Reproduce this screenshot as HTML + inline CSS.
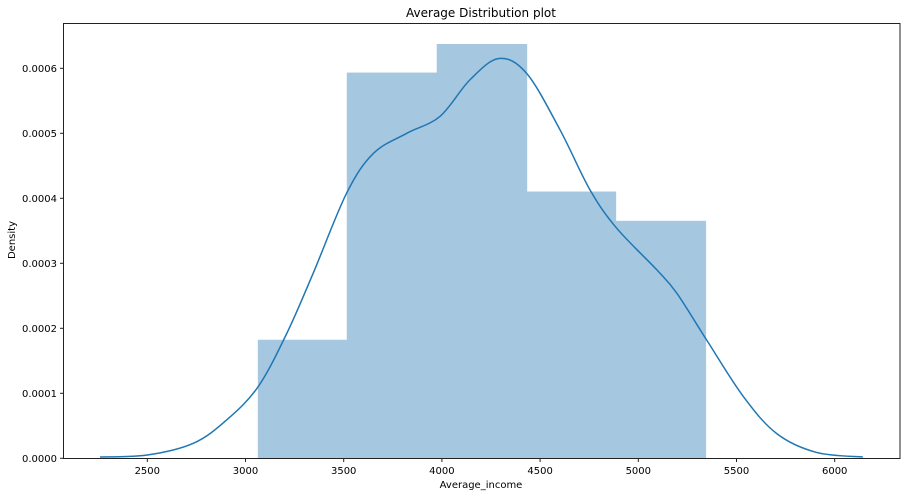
<!DOCTYPE html>
<html><head><meta charset="utf-8">
<style>
body{margin:0;background:#fff;}
svg text{font-family:"DejaVu Sans","Liberation Sans",sans-serif;fill:#000;}
</style></head>
<body>
<svg id="chart" width="907" height="497" xmlns="http://www.w3.org/2000/svg">
<rect x="0" y="0" width="907" height="497" fill="#fff"/>
<g id="bars"></g>
<g id="kde"></g>
<rect x="63.5" y="23.5" width="836.5" height="435" fill="none" stroke="#222" stroke-width="1"/>
<g id="xaxis"></g>
<g id="yaxis"></g>
<text x="481" y="17" text-anchor="middle" font-size="12">Average Distribution plot</text>
<text x="481" y="488" text-anchor="middle" font-size="10">Average_income</text>
<text x="15" y="240" text-anchor="middle" font-size="10" transform="rotate(-90 15 240)">Density</text>
</svg>
<script>
const binEdges=[3064,3517,3975,4433,4886,5344];
const binDensity=[0.000182,0.000593,0.000637,0.00041,0.000365];
const kdeX=[2259,2500,2734,2904,3064,3210,3345,3515,3651,3821,3990,4142,4290,4432,4602,4754,4890,5094,5196,5348,5535,5705,5908,6143];
const kdeY=[0.000002,0.000005,0.000023,0.000059,0.000110,0.000192,0.000285,0.000408,0.000469,0.000500,0.000526,0.000582,0.000615,0.000592,0.000505,0.000413,0.000354,0.000290,0.000254,0.000182,0.000095,0.000038,0.000009,0.000002];
const xTicks=[2500,3000,3500,4000,4500,5000,5500,6000];
const yTicks=[0,0.0001,0.0002,0.0003,0.0004,0.0005,0.0006];
const yTickLabels=["0.0000","0.0001","0.0002","0.0003","0.0004","0.0005","0.0006"];
const NS="http://www.w3.org/2000/svg";
function xs(v){return 147.3+(v-2500)*0.19640;}
function ys(v){return 458.3-v*650000;}
const bars=document.getElementById('bars');
for(let i=0;i<binDensity.length;i++){
  const r=document.createElementNS(NS,'rect');
  
  
  const x0=xs(binEdges[i]),x1=xs(binEdges[i+1]);
  r.setAttribute('x',x0);r.setAttribute('width',x1-x0);
  r.setAttribute('y',ys(binDensity[i]));r.setAttribute('height',ys(0)-ys(binDensity[i]));
  r.setAttribute('fill','#a6c7e0');r.setAttribute('stroke','#a6c7e0');r.setAttribute('stroke-width','0.5');
  bars.appendChild(r);
}
const pts=kdeX.map((x,i)=>[xs(x),ys(kdeY[i])]);
let d='M'+pts[0][0]+','+pts[0][1];
for(let i=0;i<pts.length-1;i++){
  const p0=pts[Math.max(0,i-1)],p1=pts[i],p2=pts[i+1],p3=pts[Math.min(pts.length-1,i+2)];
  const c1=[p1[0]+(p2[0]-p0[0])/6,p1[1]+(p2[1]-p0[1])/6];
  const c2=[p2[0]-(p3[0]-p1[0])/6,p2[1]-(p3[1]-p1[1])/6];
  d+=' C'+c1+' '+c2+' '+p2;
}
const path=document.createElementNS(NS,'path');


path.setAttribute('d',d);path.setAttribute('fill','none');
path.setAttribute('stroke','#1f77b4');path.setAttribute('stroke-width','1.5');
document.getElementById('kde').appendChild(path);
const xa=document.getElementById('xaxis');
xTicks.forEach(t=>{
  const l=document.createElementNS(NS,'line');
  
  
  l.setAttribute('x1',xs(t));l.setAttribute('x2',xs(t));l.setAttribute('y1',458.5);l.setAttribute('y2',462);
  l.setAttribute('stroke','#222');xa.appendChild(l);
  const tx=document.createElementNS(NS,'text');
  
  
  tx.setAttribute('x',xs(t));tx.setAttribute('y',474);tx.setAttribute('text-anchor','middle');tx.setAttribute('font-size','10');
  tx.textContent=t;xa.appendChild(tx);
});
const ya=document.getElementById('yaxis');
yTicks.forEach((t,i)=>{
  const l=document.createElementNS(NS,'line');
  
  
  l.setAttribute('x1',60);l.setAttribute('x2',63.5);l.setAttribute('y1',ys(t));l.setAttribute('y2',ys(t));
  l.setAttribute('stroke','#222');ya.appendChild(l);
  const tx=document.createElementNS(NS,'text');
  
  
  tx.setAttribute('x',57);tx.setAttribute('y',ys(t)+3.5);tx.setAttribute('text-anchor','end');tx.setAttribute('font-size','10');
  tx.textContent=yTickLabels[i];ya.appendChild(tx);
});
</script>
</body></html>
